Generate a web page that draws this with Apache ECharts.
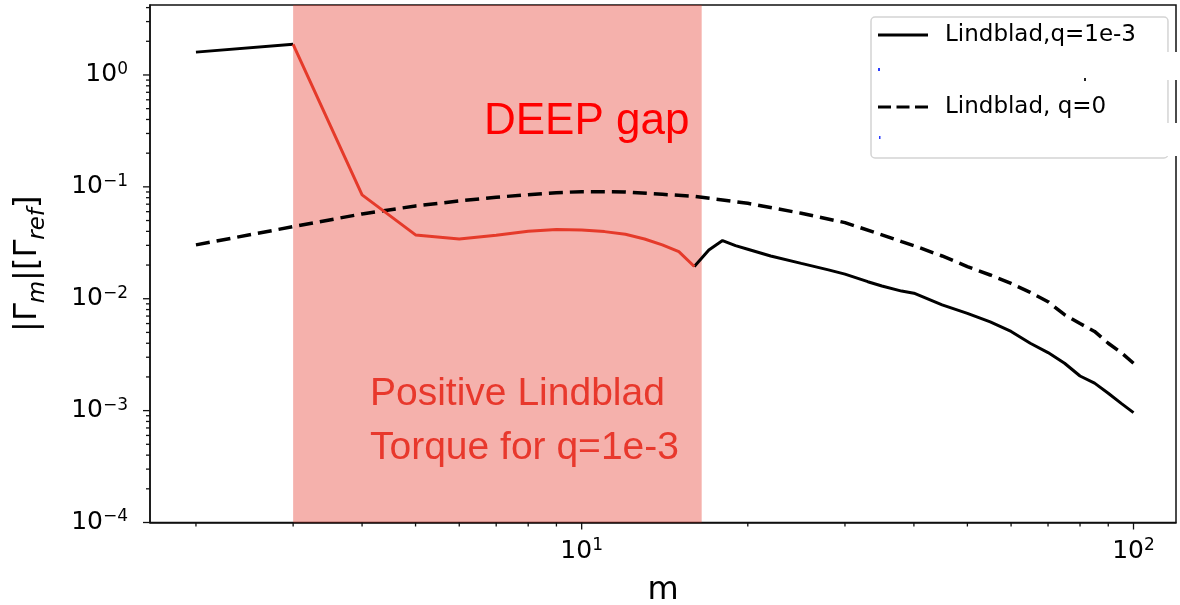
<!DOCTYPE html>
<html>
<head>
<meta charset="utf-8">
<script src="https://cdn.jsdelivr.net/npm/echarts@6/dist/echarts.min.js"></script>
<style>
  html, body { margin: 0; padding: 0; background: #fff; }
  #chart { width: 1180px; height: 605px; }
</style>
</head>
<body>
<div id="chart"></div>
<script>
// Lindblad torque per azimuthal mode m, planet mass ratio q = 1e-3
const mQ1e3 = [2, 3, 4, 5, 6, 7, 8, 9, 10, 11, 12, 13, 14, 15, 16, 17, 18, 19, 20, 22, 25, 28, 30, 33, 35, 38,
               40, 45, 50, 55, 60, 65, 70, 75, 80, 85, 90, 95, 100];
const torqueQ1e3 = [1.60, 1.88, 0.0847, 0.0372, 0.0342, 0.0369, 0.0401, 0.0415, 0.0412, 0.0398, 0.0377, 0.0342,
                    0.0303, 0.0264, 0.0194, 0.0273, 0.0331, 0.0298, 0.0277, 0.0241, 0.0207, 0.0181, 0.0166,
                    0.0142, 0.0130, 0.0117, 0.0112, 0.0088, 0.0074, 0.0062, 0.0051, 0.0040, 0.0033, 0.00265,
                    0.00204, 0.00176, 0.00143, 0.00116, 0.00096];

// Lindblad torque per mode, q = 0 (no gap)
const mQ0 = [2, 3, 4, 5, 6, 7, 8, 9, 10, 12, 14, 16, 18, 20, 25, 30, 35, 38, 40, 45, 50, 55, 60, 65, 70, 75,
             80, 85, 90, 95, 100];
const torqueQ0 = [0.0303, 0.0441, 0.0573, 0.0675, 0.0748, 0.0807, 0.0852, 0.0887, 0.0906, 0.0900, 0.0858,
                  0.0822, 0.0764, 0.0713, 0.0581, 0.0479, 0.0372, 0.0324, 0.0298, 0.0241, 0.0194, 0.0163,
                  0.0137, 0.0114, 0.0094, 0.0072, 0.0060, 0.0051, 0.0040, 0.0033, 0.00265];

// Range of m where the gap is deep (shaded band)
const gapRange = [3, 16.5];

// Axis extents and tick positions
const xRange = [1.651, 119.4];
const yRange = [1e-4, 4.22];
const xTicks = [2, 3, 4, 5, 6, 7, 8, 9, 10, 20, 30, 40, 50, 60, 70, 80, 90, 100];
const yTicks = [1e-4, 2e-4, 3e-4, 4e-4, 5e-4, 6e-4, 7e-4, 8e-4, 9e-4,
                1e-3, 2e-3, 3e-3, 4e-3, 5e-3, 6e-3, 7e-3, 8e-3, 9e-3,
                1e-2, 2e-2, 3e-2, 4e-2, 5e-2, 6e-2, 7e-2, 8e-2, 9e-2,
                1e-1, 2e-1, 3e-1, 4e-1, 5e-1, 6e-1, 7e-1, 8e-1, 9e-1,
                1, 2, 3, 4];

const LEGEND_Q1E3 = 'Lindblad,q=1e-3';
const LEGEND_Q0 = 'Lindblad, q=0';

const pairs = (xs, ys) => xs.map((x, i) => [x, ys[i]]);
const q1e3 = pairs(mQ1e3, torqueQ1e3);
const q1e3Before = q1e3.filter(p => p[0] <= gapRange[0]);
const q1e3Gap = q1e3.filter(p => p[0] >= gapRange[0] && p[0] <= gapRange[1]);
const q1e3After = q1e3.filter(p => p[0] >= Math.floor(gapRange[1]));

const isDecade = v => {
  const e = Math.round(Math.log10(v));
  return Math.abs(v - Math.pow(10, e)) < 1e-9 * v;
};
const powLabel = v => {
  if (!isDecade(v)) return '';
  const e = Math.round(Math.log10(v));
  return '{b|10}{p|' + (e < 0 ? '\u2212' + (-e) : e) + '}';
};
const powRich = {
  b: { fontFamily: 'DejaVu Sans', fontSize: 25, color: '#000', lineHeight: 28, verticalAlign: 'middle' },
  p: { fontFamily: 'DejaVu Sans', fontSize: 17, color: '#000', lineHeight: 17, verticalAlign: 'top' }
};

// legend swatches: a solid bar and a three-dash bar
const solidIcon = 'path://M0,0h50v3h-50z';
const dashIcon = 'path://M0,0h13v3h-13z M18.5,0h13v3h-13z M37,0h13v3h-13z';

const black = '#000';
const gapRed = '#e53a2a';

const chart = echarts.init(document.getElementById('chart'), null, { renderer: 'canvas' });

chart.setOption({
  animation: false,
  backgroundColor: '#fff',
  grid: {
    left: 150, right: 4, top: 5, bottom: 82.5,
    outerBoundsMode: 'none', containLabel: false,
    show: true, borderColor: '#111', borderWidth: 1.5, backgroundColor: 'transparent'
  },
  xAxis: {
    type: 'log', logBase: 10, min: xRange[0], max: xRange[1],
    name: 'm', nameLocation: 'middle', nameGap: 52,
    nameTextStyle: { fontFamily: 'DejaVu Sans', fontSize: 32, color: '#000' },
    axisLine: { show: true, lineStyle: { color: '#111', width: 1.5 } },
    axisTick: { show: false },
    splitLine: { show: false },
    minorTick: { show: false },
    axisLabel: { formatter: powLabel, rich: powRich, margin: 15, interval: 0 }
  },
  yAxis: {
    type: 'log', logBase: 10, min: yRange[0], max: yRange[1],
    name: '{n|\u007c\u0393}{s|m}{n|\u007c[\u0393}{s|ref}{n|]}',
    nameLocation: 'middle', nameGap: 100, nameRotate: 90,
    nameTextStyle: {
      rich: {
        n: { fontFamily: 'DejaVu Sans', fontSize: 32, color: '#000', lineHeight: 44, verticalAlign: 'middle' },
        s: { fontFamily: 'DejaVu Sans', fontStyle: 'italic', fontSize: 23, color: '#000', lineHeight: 22, verticalAlign: 'bottom' }
      }
    },
    axisLine: { show: true, lineStyle: { color: '#111', width: 1.5 } },
    axisTick: { show: false },
    splitLine: { show: false },
    minorTick: { show: false },
    axisLabel: { formatter: powLabel, rich: powRich, margin: 22, interval: 0 }
  },
  legend: {
    data: [
      { name: LEGEND_Q1E3, icon: solidIcon },
      { name: LEGEND_Q0, icon: dashIcon }
    ],
    orient: 'vertical', left: 871, top: 17,
    padding: [5, 32, 38, 7], itemGap: 46, itemWidth: 50, itemHeight: 3.5,
    backgroundColor: '#fff', borderColor: '#d4d4d4', borderWidth: 1.5, borderRadius: 4,
    selectedMode: false, z: 10,
    itemStyle: { borderWidth: 0 },
    textStyle: { fontFamily: 'DejaVu Sans', fontSize: 23, color: '#000', lineHeight: 26, padding: [0, 0, 0, 12] }
  },
  graphic: [
    // annotations
    { type: 'text', left: 484, top: 100, z: 50,
      style: { text: 'DEEP gap', fontFamily: 'Liberation Sans', fontSize: 44, fill: '#ff0000' } },
    { type: 'text', left: 370, top: 367, z: 50,
      style: { text: 'Positive Lindblad\nTorque for q=1e-3', fontFamily: 'Liberation Sans', fontSize: 39,
               lineHeight: 54, fill: '#e8382c' } },
    // patched-over strips on the legend box
    { type: 'rect', shape: { x: 940, y: 52, width: 240, height: 28 }, z: 60, style: { fill: '#fff' } },
    { type: 'rect', shape: { x: 940, y: 123, width: 240, height: 33 }, z: 60, style: { fill: '#fff' } },
    { type: 'rect', shape: { x: 878, y: 68, width: 2, height: 3 }, z: 61, style: { fill: '#2a3cff' } },
    { type: 'rect', shape: { x: 879, y: 136, width: 1.5, height: 3 }, z: 61, style: { fill: '#2a3cff' } },
    { type: 'rect', shape: { x: 1084, y: 78, width: 2, height: 3 }, z: 61, style: { fill: '#222' } }
  ],
  series: [
    {
      name: LEGEND_Q0, type: 'line', data: pairs(mQ0, torqueQ0), symbol: 'none', z: 2,
      lineStyle: { color: black, width: 3.5, type: [14, 7] }, itemStyle: { color: black }
    },
    {
      name: 'gap band', type: 'line', data: [], z: 3, silent: true,
      markArea: {
        silent: true,
        itemStyle: { color: 'rgba(228, 50, 36, 0.38)' },
        data: [[{ xAxis: gapRange[0] }, { xAxis: gapRange[1] }]]
      }
    },
    {
      name: LEGEND_Q1E3, type: 'line', data: q1e3Before, symbol: 'none', z: 5,
      lineStyle: { color: black, width: 3 }, itemStyle: { color: black }
    },
    {
      name: LEGEND_Q1E3, type: 'line', data: q1e3After, symbol: 'none', z: 5,
      lineStyle: { color: black, width: 3 }, itemStyle: { color: black }
    },
    {
      name: 'gap', type: 'line', data: q1e3Gap, symbol: 'none', z: 6,
      lineStyle: { color: gapRed, width: 3 }, itemStyle: { color: gapRed }
    },
    {
      // x-axis ticks, major at decades
      name: 'xticks', type: 'custom', z: 8, silent: true, clip: false,
      data: xTicks.map(v => [v, yRange[0]]),
      renderItem: (params, api) => {
        const v = api.value(0);
        const p = api.coord([v, api.value(1)]);
        const len = isDecade(v) ? 7 : 4;
        return { type: 'line', shape: { x1: p[0], y1: p[1], x2: p[0], y2: p[1] + len },
                 style: { stroke: '#111', lineWidth: 1.3 } };
      }
    },
    {
      // y-axis ticks, major at decades
      name: 'yticks', type: 'custom', z: 8, silent: true, clip: false,
      data: yTicks.map(v => [xRange[0], v]),
      renderItem: (params, api) => {
        const v = api.value(1);
        const p = api.coord([api.value(0), v]);
        const len = isDecade(v) ? 7 : 4;
        return { type: 'line', shape: { x1: p[0] - len, y1: p[1], x2: p[0], y2: p[1] },
                 style: { stroke: '#111', lineWidth: 1.3 } };
      }
    }
  ]
});
</script>
</body>
</html>
